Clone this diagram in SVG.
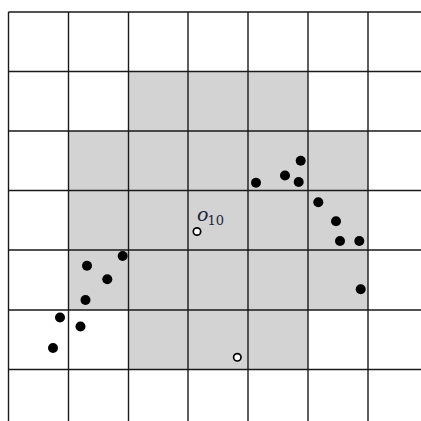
<svg xmlns="http://www.w3.org/2000/svg" width="421" height="421" viewBox="0 0 421 421">
<style>
.shade{fill:#d3d3d3;stroke:none}
.grid{stroke:#1a1a1a;stroke-width:1.4;fill:none}
.dot{fill:#000}
.open{fill:#fff;stroke:#000;stroke-width:1.7}
.lbl{font-family:"DejaVu Serif","Liberation Serif",serif;fill:#1b2640}
</style>
<rect width="421" height="421" fill="#fff"/>
<g id="shading">
<polygon class="shade" points="128.5,71.5 308,71.5 308,131 368,131 368,310 308,310 308,369.5 128.5,369.5 128.5,310 68.5,310 68.5,131 128.5,131"/>
</g>
<g id="grid" class="grid">
<path d="M8.5,12V421M68.5,12V421M128.5,12V421M188,12V421M248,12V421M308,12V421M368,12V421"/>
<path d="M8.5,12H421M8.5,71.5H421M8.5,131H421M8.5,190.5H421M8.5,250H421M8.5,310H421M8.5,369.5H421"/>
</g>
<g id="points">
<circle class="dot" cx="53" cy="348" r="5"/>
<circle class="dot" cx="60" cy="317.5" r="5"/>
<circle class="dot" cx="80.5" cy="326.5" r="5"/>
<circle class="dot" cx="85.5" cy="300" r="5"/>
<circle class="dot" cx="87" cy="265.7" r="5"/>
<circle class="dot" cx="107.3" cy="279.3" r="5"/>
<circle class="dot" cx="122.7" cy="256" r="5"/>
<circle class="dot" cx="256" cy="182.7" r="5"/>
<circle class="dot" cx="285" cy="175.5" r="5"/>
<circle class="dot" cx="300.7" cy="160.7" r="5"/>
<circle class="dot" cx="298.7" cy="182" r="5"/>
<circle class="dot" cx="318.3" cy="202.3" r="5"/>
<circle class="dot" cx="336" cy="221.3" r="5"/>
<circle class="dot" cx="340" cy="241" r="5"/>
<circle class="dot" cx="359.3" cy="241" r="5"/>
<circle class="dot" cx="360.7" cy="289.3" r="5"/>
</g>
<g id="o10">
<circle class="open" cx="197" cy="231.5" r="3.7"/>
<text class="lbl" x="197" y="221" font-size="19" font-style="italic">o</text>
<text class="lbl" x="207.5" y="225" font-size="13">10</text>
</g>
<g id="o-bottom">
<circle class="open" cx="237.3" cy="357.3" r="3.7"/>
</g>
</svg>
